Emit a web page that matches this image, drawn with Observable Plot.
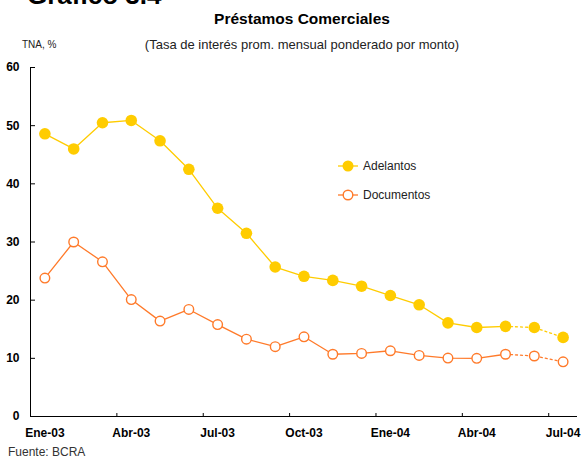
<!DOCTYPE html>
<html><head><meta charset="utf-8">
<script src="https://cdn.jsdelivr.net/npm/d3@7"></script>
<script src="https://cdn.jsdelivr.net/npm/@observablehq/plot@0.6"></script>
<style>
body{margin:0;background:#fff;font-family:"Liberation Sans",Arial,sans-serif;color:#000;}
#wrap{position:relative;width:582px;height:460px;overflow:hidden;background:#fff;}
#chart{position:absolute;left:0;top:0;}
.t{position:absolute;white-space:nowrap;}
</style></head><body>
<div id="wrap">
<div id="chart"></div>
<div class="t" style="left:27px;top:-20px;font-size:26px;font-weight:bold;">Gráfico 3.4</div>
<div class="t" style="left:0;width:604px;text-align:center;top:10px;font-size:15.5px;font-weight:bold;">Préstamos Comerciales</div>
<div class="t" style="left:0;width:604px;text-align:center;top:37px;font-size:13px;color:#222;">(Tasa de interés prom. mensual ponderado por monto)</div>
<div class="t" style="left:22px;top:39px;font-size:10px;color:#222;">TNA, %</div>
<div class="t" style="left:8px;top:445px;font-size:12px;color:#333;">Fuente: BCRA</div>
<div class="t" id="legend" style="left:336px;top:156px;"></div>
</div>
<script>
const months = ["Ene-03","Feb-03","Mar-03","Abr-03","May-03","Jun-03","Jul-03","Ago-03","Sep-03","Oct-03","Nov-03","Dic-03","Ene-04","Feb-04","Mar-04","Abr-04","May-04","Jun-04","Jul-04"];
const adelantos = [48.6,46.0,50.5,50.9,47.4,42.5,35.8,31.5,25.7,24.1,23.4,22.4,20.8,19.2,16.1,15.3,15.5,15.3,13.6];
const documentos = [23.8,30.0,26.6,20.1,16.4,18.4,15.8,13.3,12.0,13.7,10.7,10.85,11.3,10.5,10.05,10.0,10.7,10.4,9.4];
const tickLabels = ["Ene-03","Abr-03","Jul-03","Oct-03","Ene-04","Abr-04","Jul-04"];
const yTicks = [0,10,20,30,40,50,60];
const seriesNames = ["Adelantos","Documentos"];
const dottedFrom = "May-04";

const gold = "#ffcc00", orange = "#ff7a2a";
const rows = months.map((m,i)=>({i, m, a: adelantos[i], d: documentos[i]}));
const k = months.indexOf(dottedFrom);
const solid = rows.filter(r=>r.i<=k), dotted = rows.filter(r=>r.i>=k);
const labelIdx = tickLabels.map(l=>months.indexOf(l));
const boundaries = labelIdx.filter(i=>i>0).map(i=>i-0.5);
const xDomain = [-0.5, months.length-0.5];

const chart = Plot.plot({
  width: 582, height: 460,
  marginLeft: 30, marginRight: 5, marginTop: 67, marginBottom: 44,
  style: {fontFamily: "'Liberation Sans', Arial, sans-serif", fontSize: "12px", background: "transparent"},
  x: {type: "linear", domain: xDomain},
  y: {domain: [0,60]},
  marks: [
    Plot.ruleY([0], {stroke: "#000", strokeWidth: 1}),
    Plot.ruleX([xDomain[0]], {stroke: "#000", strokeWidth: 1}),
    Plot.axisY({ticks: yTicks, tickSize: -5, tickPadding: 16, fontWeight: "bold", fontSize: 12, label: null, stroke: "#000"}),
    Plot.axisX({ticks: boundaries, tickSize: -3, tickFormat: () => "", label: null, stroke: "#000"}),
    Plot.axisX({ticks: labelIdx, tickSize: 0, tickPadding: 12, tickFormat: i => months[i], fontWeight: "bold", fontSize: 12, label: null}),
    Plot.line(solid, {x: "i", y: "a", stroke: gold, strokeWidth: 1.3}),
    Plot.line(dotted, {x: "i", y: "a", stroke: gold, strokeWidth: 1.3, strokeDasharray: "2,3"}),
    Plot.line(solid, {x: "i", y: "d", stroke: orange, strokeWidth: 1.3}),
    Plot.line(dotted, {x: "i", y: "d", stroke: orange, strokeWidth: 1.3, strokeDasharray: "2,3"}),
    Plot.dot(rows, {x: "i", y: "a", r: 5.8, fill: gold}),
    Plot.dot(rows, {x: "i", y: "d", r: 4.8, fill: "white", stroke: orange, strokeWidth: 1.4})
  ]
});
document.getElementById("chart").appendChild(chart);

const lg = d3.select("#legend").append("svg").attr("width", 120).attr("height", 50)
  .style("font-family", "'Liberation Sans', Arial, sans-serif").style("font-size", "12px");
const items = [{name: seriesNames[0], c: gold, fill: gold, r: 5.5}, {name: seriesNames[1], c: orange, fill: "white", r: 4.8}];
items.forEach((it, j) => {
  const y = 10 + j*29;
  lg.append("line").attr("x1", 2).attr("x2", 22).attr("y1", y).attr("y2", y).attr("stroke", it.c).attr("stroke-width", 1.3);
  lg.append("circle").attr("cx", 12).attr("cy", y).attr("r", it.r).attr("fill", it.fill).attr("stroke", it.fill === "white" ? it.c : "none").attr("stroke-width", 1.4);
  lg.append("text").attr("x", 27).attr("y", y).attr("dy", "0.35em").attr("fill", "#222").text(it.name);
});
</script>
</body></html>
